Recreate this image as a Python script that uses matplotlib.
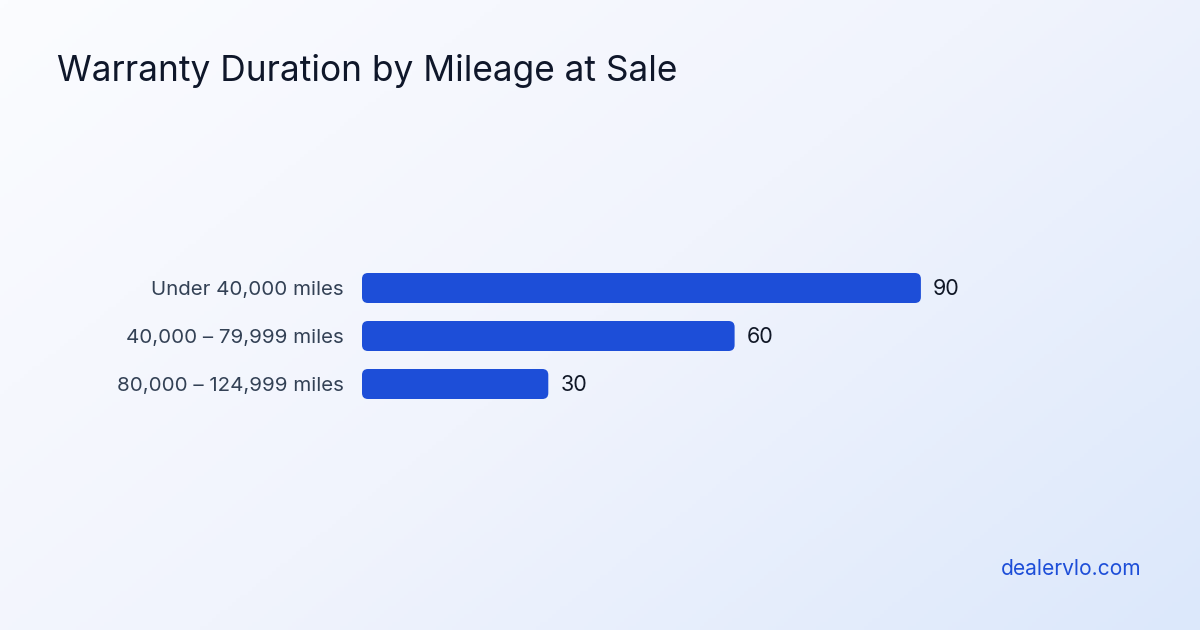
import numpy as np
import matplotlib
matplotlib.use("Agg")
import matplotlib.pyplot as plt
from matplotlib.patches import FancyBboxPatch
from matplotlib.colors import LinearSegmentedColormap

# ---- data ----
categories = ["Under 40,000 miles", "40,000 – 79,999 miles", "80,000 – 124,999 miles"]
values = [90, 60, 30]
title = "Warranty Duration by Mileage at Sale"
watermark = "dealervlo.com"

plt.rcParams['font.family'] = ['Inter', 'DejaVu Sans']

W, H, DPI = 1200, 630, 100
fig = plt.figure(figsize=(W / DPI, H / DPI), dpi=DPI)

# background gradient
bg = fig.add_axes([0, 0, 1, 1], zorder=0)
bg.axis("off")
xx, yy = np.meshgrid(np.linspace(0, 1, 300), np.linspace(0, 1, 160))
g = (xx * 0.6 + yy * 0.4)
cmap = LinearSegmentedColormap.from_list("bg", ["#fbfcff", "#f1f4fd", "#dce8fb"])
bg.imshow(g, cmap=cmap, aspect="auto", extent=[0, 1, 0, 1], origin="upper")
bg.set_xlim(0, 1); bg.set_ylim(0, 1)

# main axes
ax_l, ax_r = 362, 983
ax_top, ax_bot = 264, 408
ax = fig.add_axes([ax_l / W, 1 - ax_bot / H, (ax_r - ax_l) / W, (ax_bot - ax_top) / H], zorder=1)
ax.patch.set_alpha(0)
ax.set_xlim(0, 100)
ypos = np.arange(len(categories))
bar_h = 30 / 48
bars = ax.barh(ypos, values, height=bar_h, color="#1d4ed8")
ax.set_ylim(len(categories) - 0.5, -0.5)

# rounded corners
x_px = (ax_r - ax_l) / 100.0
y_px = (ax_bot - ax_top) / len(categories)
radius_px = 6
for b in bars:
    x0, y0 = b.get_x(), b.get_y()
    w, h = b.get_width(), b.get_height()
    b.set_visible(False)
    p = FancyBboxPatch((x0, y0), w, h,
                       boxstyle=f"round,pad=0,rounding_size={radius_px / x_px}",
                       mutation_aspect=x_px / y_px,
                       facecolor="#1d4ed8", edgecolor="none")
    ax.add_patch(p)

for y, v in zip(ypos, values):
    ax.annotate(str(v), (v, y), xytext=(12 * 72 / DPI, -1.2 * 72 / DPI), textcoords="offset points",
                va="center", ha="left", fontsize=21.5 * 72 / DPI, color="#111827")

ax.set_yticks(ypos)
ax.set_yticklabels(categories, fontsize=20.5 * 72 / DPI, color="#334155")
ax.tick_params(axis="y", length=0, pad=18 * 72 / DPI)
ax.set_xticks([])
for s in ax.spines.values():
    s.set_visible(False)

fig.text(57 / W, 1 - 81 / H, title, fontsize=35.3 * 72 / DPI, color="#0f172a",
         ha="left", va="baseline")
fig.text(1141 / W, 1 - 575 / H, watermark, fontsize=21 * 72 / DPI, color="#1d4ed8",
         ha="right", va="baseline")

fig.savefig("out.png", dpi=DPI)
